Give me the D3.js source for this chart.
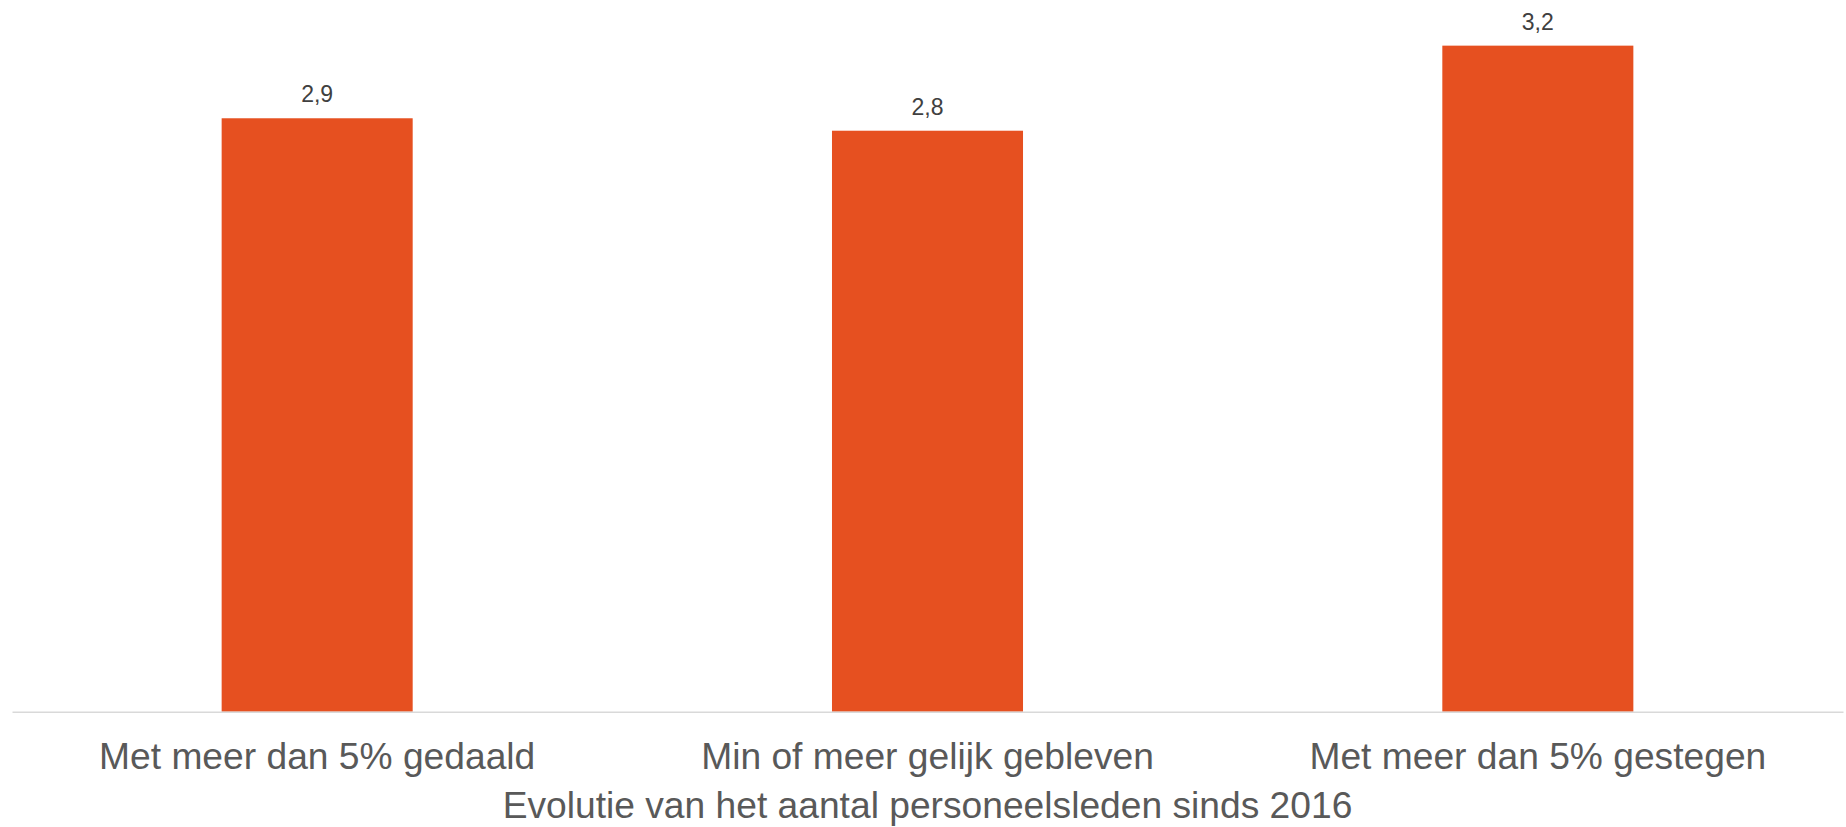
<!DOCTYPE html>
<html>
<head>
<meta charset="utf-8">
<script src="https://cdn.jsdelivr.net/npm/d3@7"></script>
<style>
    body { margin: 0; background: #fff; }
    svg { display: block; font-family: "Liberation Sans", Arial, sans-serif; }
</style>
</head>
<body>
<div id="chart"></div>
<script>
const categories = ["Met meer dan 5% gedaald", "Min of meer gelijk gebleven", "Met meer dan 5% gestegen"];
const values = [2.86, 2.8, 3.21];
const axisTitle = "Evolutie van het aantal personeelsleden sinds 2016";

const width = 1846, height = 827;
const margin = { top: 0, right: 3, bottom: 115.3, left: 12 };
const innerW = width - margin.left - margin.right;
const innerH = height - margin.top - margin.bottom;

const svg = d3.select('#chart')
    .append('svg')
    .attr('width', width)
    .attr('height', height);

const g = svg.append('g')
    .attr('transform', `translate(${margin.left},${margin.top})`);

const xScale = d3.scaleBand()
    .domain(categories)
    .range([0, innerW])
    .paddingInner(0.687)
    .paddingOuter(0.3435);

const yScale = d3.scaleLinear()
    .domain([0, 3.43])
    .range([innerH, 0]);

// bars
g.selectAll('rect.bar')
    .data(values)
    .join('rect')
    .attr('class', 'bar')
    .attr('x', (d, i) => xScale(categories[i]))
    .attr('y', d => yScale(d))
    .attr('width', xScale.bandwidth())
    .attr('height', d => innerH - yScale(d))
    .attr('fill', '#E65020');

// data labels
g.selectAll('text.value')
    .data(values)
    .join('text')
    .attr('class', 'value')
    .attr('x', (d, i) => xScale(categories[i]) + xScale.bandwidth() / 2)
    .attr('y', d => yScale(d) - 16)
    .attr('text-anchor', 'middle')
    .attr('font-size', 23)
    .attr('fill', '#404040')
    .text(d => d.toFixed(1).replace('.', ','));

// x axis
const xAxis = g.append('g')
    .attr('transform', `translate(0,${innerH})`)
    .call(d3.axisBottom(xScale).tickSize(0).tickPadding(0));

xAxis.select('.domain')
    .attr('stroke', '#d9d9d9')
    .attr('stroke-width', 1.5);

xAxis.selectAll('.tick text')
    .attr('dy', null)
    .attr('y', 57.6)
    .attr('font-size', 37.2)
    .attr('fill', '#595959');

// axis title
svg.append('text')
    .attr('x', margin.left + innerW / 2)
    .attr('y', 817.7)
    .attr('text-anchor', 'middle')
    .attr('font-size', 37.2)
    .attr('fill', '#595959')
    .text(axisTitle);
</script>
</body>
</html>
